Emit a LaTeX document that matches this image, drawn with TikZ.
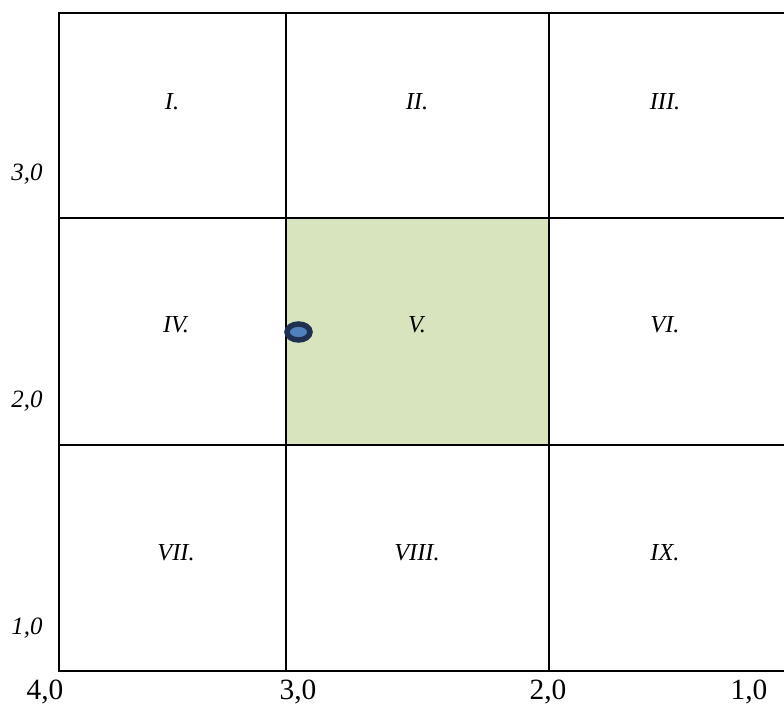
\documentclass[tikz,border=0pt]{standalone}
\usepackage{fontspec}
\setmainfont{Liberation Serif}
\usetikzlibrary{shapes.geometric}
\definecolor{cellgreen}{HTML}{D7E4BD}
\definecolor{dotfill}{HTML}{4F81BD}
\definecolor{dotline}{HTML}{1F3050}
\begin{document}
\begin{tikzpicture}[x=1bp,y=-1bp,
  gridline/.style={line width=2.6bp,black},
  celllabel/.style={font=\fontsize{24.5}{28}\selectfont\itshape,inner sep=0pt},
  sidelabel/.style={font=\fontsize{25}{28}\selectfont\itshape,inner sep=0pt},
  bottomlabel/.style={font=\fontsize{29.5}{33}\selectfont,inner sep=0pt}]
\useasboundingbox (0,0) rectangle (784,709);
% shaded centre cell
\fill[cellgreen] (286,218) rectangle (549,445);
% grid
\draw[gridline] (784,13) -- (59,13) -- (59,671) -- (784,671);
\draw[gridline] (59,218) -- (784,218);
\draw[gridline] (59,445) -- (784,445);
\draw[gridline] (286,13) -- (286,671);
\draw[gridline] (549,13) -- (549,671);
% cell labels
\node[celllabel] (c1) at (172,102) {I.};
\node[celllabel] (c2) at (417,102) {II.};
\node[celllabel] (c3) at (665,102) {III.};
\node[celllabel] (c4) at (176,325) {IV.};
\node[celllabel] (c5) at (417,325) {V.};
\node[celllabel] (c6) at (665,325) {VI.};
\node[celllabel] (c7) at (176,553) {VII.};
\node[celllabel] (c8) at (417,553) {VIII.};
\node[celllabel] (c9) at (665,553) {IX.};
% left axis labels
\node[sidelabel] (l3) at (27,174) {3,0};
\node[sidelabel] (l2) at (27,401) {2,0};
\node[sidelabel] (l1) at (27,628) {1,0};
% bottom axis labels
\node[bottomlabel] (b4) at (45,692) {4,0};
\node[bottomlabel] (b3) at (298,692) {3,0};
\node[bottomlabel] (b2) at (548,692) {2,0};
\node[bottomlabel] (b1) at (749,692) {1,0};
% dot
\node[ellipse,draw=dotline,fill=dotfill,line width=5.5bp,minimum width=23bp,minimum height=16bp,inner sep=0pt] (dot) at (298.5,332) {};
\end{tikzpicture}
\end{document}
